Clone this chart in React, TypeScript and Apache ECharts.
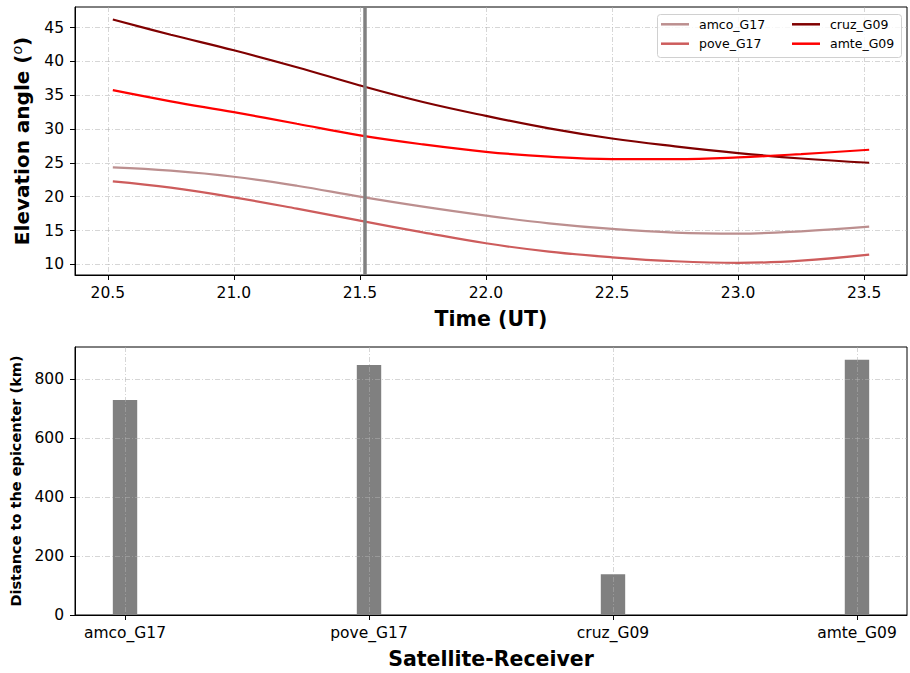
import React, { useEffect, useRef } from 'react';
import * as echarts from 'echarts';

const timeHours = [20.52, 20.75, 21.0, 21.25, 21.5, 21.75, 22.0, 22.25, 22.5, 22.75, 23.0, 23.25, 23.52];
const amcoG17 = [24.33, 23.84, 22.95, 21.62, 20.0, 18.52, 17.2, 16.06, 15.23, 14.69, 14.54, 14.88, 15.57];
const poveG17 = [22.26, 21.33, 19.9, 18.23, 16.46, 14.73, 13.11, 11.88, 11.04, 10.45, 10.2, 10.55, 11.44];
const cruzG09 = [46.2, 43.95, 41.65, 39.15, 36.45, 34.0, 31.95, 30.1, 28.6, 27.45, 26.45, 25.65, 25.02];
const amteG09 = [35.75, 34.1, 32.5, 30.78, 29.06, 27.73, 26.64, 25.91, 25.56, 25.56, 25.81, 26.3, 26.94];

const seriesNames = ['amco_G17', 'pove_G17', 'cruz_G09', 'amte_G09'];
const seriesColors = ['#bc8f8f', '#cd5c5c', '#800000', '#ff0000'];

const receivers = ['amco_G17', 'pove_G17', 'cruz_G09', 'amte_G09'];
const distancesKm = [730, 849, 138, 867];

const timeTicks = [20.5, 21.0, 21.5, 22.0, 22.5, 23.0, 23.5];
const elevationTicks = [10, 15, 20, 25, 30, 35, 40, 45];
const distanceTicks = [0, 200, 400, 600, 800];
const receiverTicks = [0, 1, 2, 3];
const eventTime = 21.52;

const FONT = 'DejaVu Sans';
const TICK_FS = 15.5;
const gridLine = { show: true, lineStyle: { color: 'rgba(176,176,176,0.65)', width: 0.8, type: [5, 2, 1, 2] } };
const axisLine = { show: true, onZero: false, lineStyle: { color: '#000', width: 1 } };
const tickStyle = (vals: number[]) => ({ show: true, length: 5, customValues: vals, lineStyle: { color: '#000', width: 1 } });

export default function App() {
  const ref = useRef<HTMLDivElement>(null);
  useEffect(() => {
    const chart = echarts.init(ref.current!, null, { renderer: 'svg' });
    const lineData = [amcoG17, poveG17, cruzG09, amteG09];
    const option: any = {
      animation: false,
      textStyle: { fontFamily: FONT },
      grid: [
        { left: 75, top: 7, width: 832, height: 268, show: true, borderColor: '#000', borderWidth: 1, backgroundColor: 'transparent' },
        { left: 75, top: 347, width: 832, height: 268, show: true, borderColor: '#000', borderWidth: 1, backgroundColor: 'transparent' },
      ],
      xAxis: [
        {
          type: 'value', gridIndex: 0, min: 20.37, max: 23.67,
          axisLine, axisTick: tickStyle(timeTicks),
          axisLabel: { customValues: timeTicks, formatter: (v: number) => v.toFixed(1), fontSize: TICK_FS, color: '#000', margin: 10, fontFamily: FONT },
          splitLine: gridLine,
          name: 'Time (UT)', nameLocation: 'middle', nameGap: 33,
          nameTextStyle: { fontSize: 20.5, fontWeight: 'bold', color: '#000', fontFamily: FONT },
        },
        {
          type: 'value', gridIndex: 1, min: -0.205, max: 3.205, z: 3,
          axisLine, axisTick: tickStyle(receiverTicks),
          axisLabel: { customValues: receiverTicks, formatter: (v: number) => receivers[Math.round(v)] ?? '', fontSize: TICK_FS, color: '#000', margin: 10, fontFamily: FONT },
          splitLine: gridLine,
          name: 'Satellite-Receiver', nameLocation: 'middle', nameGap: 33,
          nameTextStyle: { fontSize: 20.5, fontWeight: 'bold', color: '#000', fontFamily: FONT },
        },
      ],
      yAxis: [
        {
          type: 'value', gridIndex: 0, min: 8.42, max: 48.05,
          axisLine, axisTick: tickStyle(elevationTicks),
          axisLabel: { customValues: elevationTicks, fontSize: TICK_FS, color: '#000', margin: 11, fontFamily: FONT },
          splitLine: gridLine,
          name: '{b|Elevation angle (}{s|o}{b|)}', nameLocation: 'middle', nameGap: 41, nameRotate: 90,
          nameTextStyle: {
            color: '#000',
            rich: {
              b: { fontSize: 20, fontWeight: 'bold', fontFamily: FONT, color: '#000', lineHeight: 24 },
              s: { fontSize: 14, fontStyle: 'italic', fontFamily: FONT, color: '#000', verticalAlign: 'top', lineHeight: 14 },
            },
          },
        },
        {
          type: 'value', gridIndex: 1, min: 0, max: 910, z: 3,
          axisLine, axisTick: tickStyle(distanceTicks),
          axisLabel: { customValues: distanceTicks, fontSize: TICK_FS, color: '#000', margin: 11, fontFamily: FONT },
          splitLine: gridLine,
          name: 'Distance to the epicenter (km)', nameLocation: 'middle', nameGap: 49, nameRotate: 90,
          nameTextStyle: { fontSize: 14.5, fontWeight: 'bold', color: '#000', fontFamily: FONT },
        },
      ],
      legend: [
        {
          data: [seriesNames[0], seriesNames[1]], orient: 'vertical', left: 661, top: 16.8, padding: 0,
          icon: 'rect', itemWidth: 28, itemHeight: 2.5, itemGap: 4.4, z: 6,
          textStyle: { fontSize: 12.5, color: '#000', fontFamily: FONT, lineHeight: 15, padding: [0, 0, 0, 5] },
        },
        {
          data: [seriesNames[2], seriesNames[3]], orient: 'vertical', left: 792, top: 16.8, padding: 0,
          icon: 'rect', itemWidth: 28, itemHeight: 2.5, itemGap: 4.4, z: 6,
          textStyle: { fontSize: 12.5, color: '#000', fontFamily: FONT, lineHeight: 15, padding: [0, 0, 0, 5] },
        },
      ],
      graphic: [
        {
          type: 'rect', left: 657, top: 14, z: 5, silent: true,
          shape: { width: 244, height: 43, r: 3 },
          style: { fill: 'rgba(255,255,255,0.8)', stroke: '#d0d0d0', lineWidth: 1 },
        },
      ],
      series: [
        ...lineData.map((vals, i) => ({
          name: seriesNames[i], type: 'line', xAxisIndex: 0, yAxisIndex: 0,
          data: timeHours.map((t, j) => [t, vals[j]]),
          smooth: 0.4, symbol: 'none', showSymbol: false,
          lineStyle: { color: seriesColors[i], width: 2.2 }, itemStyle: { color: seriesColors[i] },
          markLine: i === 3 ? {
            silent: true, symbol: ['none', 'none'], label: { show: false },
            lineStyle: { color: '#808080', width: 3.5, type: 'solid' },
            data: [{ xAxis: eventTime }],
          } : undefined,
        })),
        {
          name: 'distance', type: 'bar', xAxisIndex: 1, yAxisIndex: 1,
          data: receivers.map((_, i) => [i, distancesKm[i]]),
          barWidth: 24.4, itemStyle: { color: '#808080' },
        },
      ],
    };
    chart.setOption(option);
    return () => chart.dispose();
  }, []);
  return <div ref={ref} style={{ position: 'absolute', left: 0, top: 0, width: 910, height: 673 }} />;
}
